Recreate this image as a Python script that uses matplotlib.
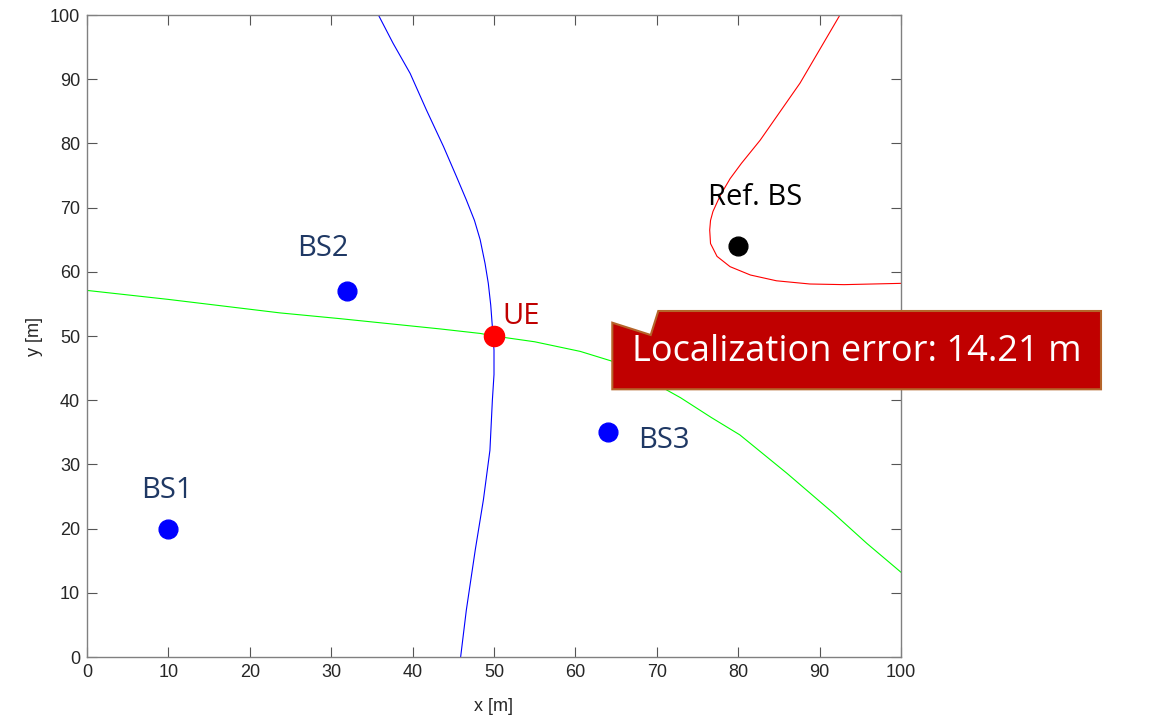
import matplotlib
matplotlib.use("Agg")
import matplotlib.pyplot as plt
from matplotlib.patches import Polygon

# ---- data ----
bs_names = ["BS1", "BS2", "BS3"]
bs_x = [10, 32, 64]
bs_y = [20, 57, 35]
ref_x, ref_y = 80, 64
ue_x, ue_y = 50, 50

blue_x = [35.8, 37.6, 39.7, 41.7, 43.8, 45.4, 46.6, 47.6, 48.3, 48.9, 49.3, 49.6, 49.8, 50.0,
          50.0, 49.8, 49.5, 48.7, 47.7, 46.6, 45.9]
blue_y = [100, 95.6, 90.9, 85.2, 79.5, 74.8, 71.2, 68.0, 65.0, 61.3, 58.2, 54.8, 51.4, 47.8,
          44.0, 40.0, 32.2, 24.5, 16.7, 7.3, 0.0]

green_x = [0, 10, 23.7, 31.1, 43.4, 48.3, 50, 55, 60.6, 64.7, 68, 71.2, 72.9, 76.7, 80.2,
           86.0, 91.7, 95.8, 100]
green_y = [57.1, 55.7, 53.6, 52.7, 51.1, 50.4, 50.0, 49.1, 47.6, 46.0, 44.0, 41.6, 40.4,
           37.3, 34.6, 28.6, 22.4, 17.7, 13.2]

red_x = [92.5, 87.6, 82.7, 80.4, 79.0, 77.8, 76.9, 76.6, 76.5, 76.6, 77.4, 79.0, 81.5, 84.7,
         88.8, 93.0, 100]
red_y = [100, 89.4, 80.5, 76.9, 74.5, 71.9, 69.4, 68.0, 66.5, 64.4, 62.4, 60.8, 59.5, 58.6,
         58.1, 58.0, 58.2]

xticks = list(range(0, 101, 10))
yticks = list(range(0, 101, 10))
callout_text = "Localization error: 14.21 m"

W, H = 1158, 716
fig = plt.figure(figsize=(W / 100, H / 100), dpi=100)
ax = fig.add_axes([87 / W, 1 - 657 / H, (901 - 87) / W, (657 - 15) / H])

ax.plot(blue_x, blue_y, color="#0000ff", lw=0.8)
ax.plot(green_x, green_y, color="#00ff00", lw=0.8)
ax.plot(red_x, red_y, color="#ff0000", lw=0.8)

ax.plot(bs_x, bs_y, "o", color="#0000ff", ms=13.5, zorder=5)
ax.plot([ref_x], [ref_y], "o", color="black", ms=13.5, zorder=5)
ax.plot([ue_x], [ue_y], "o", color="#ff0000", ms=14.5, zorder=6)

ax.set_xlim(0, 100)
ax.set_ylim(0, 100)
ax.set_xticks(xticks)
ax.set_yticks(yticks)
tick_font = "Liberation Sans"
ax.tick_params(direction="in", length=7, width=0.8, color="#555555",
               top=True, right=True, labelsize=13, labelcolor="#262626", pad=5)
for lbl in ax.get_xticklabels() + ax.get_yticklabels():
    lbl.set_family(tick_font)
for s in ax.spines.values():
    s.set_color("#808080")
    s.set_linewidth(1.0)
ax.set_xlabel("x [m]", fontsize=13, family=tick_font, color="#262626", labelpad=12)
ax.set_ylabel("y [m]", fontsize=13, family=tick_font, color="#262626", labelpad=5)

lab_font = "Open Sans"
navy = "#1f3864"
fs = 21
ax.text(9.8, 26.0, "BS1", color=navy, fontsize=fs, family=lab_font, ha="center", va="center")
ax.text(29.0, 63.6, "BS2", color=navy, fontsize=fs, family=lab_font, ha="center", va="center")
ax.text(70.9, 33.8, "BS3", color=navy, fontsize=fs, family=lab_font, ha="center", va="center")
ax.text(53.3, 53.1, "UE", color="#c00000", fontsize=fs, family=lab_font, ha="center", va="center")
ax.text(82.1, 71.5, "Ref. BS", color="black", fontsize=fs, family=lab_font, ha="center", va="center")

# callout (figure pixel coordinates)
pts = [(612.3, 322.7), (650.7, 335), (658.3, 311), (1101, 311), (1101, 389.3), (612.3, 389.3)]
poly = Polygon([(x / W, 1 - y / H) for x, y in pts], closed=True,
               transform=fig.transFigure, facecolor="#c00000", edgecolor="#b5652a",
               linewidth=1.5, zorder=10)
fig.add_artist(poly)
fig.text(857 / W, 1 - 352 / H, callout_text, color="white", fontsize=26,
         family=lab_font, ha="center", va="center", zorder=11)

fig.savefig("out.png", dpi=100)
